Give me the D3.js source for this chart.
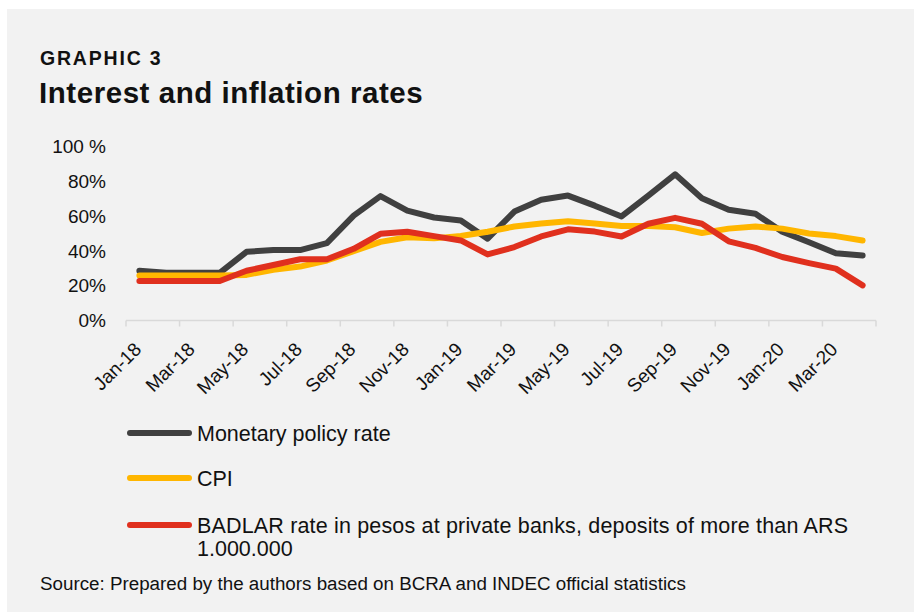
<!DOCTYPE html>
<html>
<head>
<meta charset="utf-8">
<script src="https://cdn.jsdelivr.net/npm/d3@7"></script>
<style>
  body { margin: 0; background: #ffffff; }
  svg { display: block; font-family: "Liberation Sans", Arial, sans-serif; }
</style>
</head>
<body>
<div id="wrapper"></div>
<script>
// months on the category axis
const months = ["Jan-18","Feb-18","Mar-18","Apr-18","May-18","Jun-18","Jul-18","Aug-18","Sep-18","Oct-18","Nov-18","Dec-18",
                "Jan-19","Feb-19","Mar-19","Apr-19","May-19","Jun-19","Jul-19","Aug-19","Sep-19","Oct-19","Nov-19","Dec-19",
                "Jan-20","Feb-20","Mar-20","Apr-20"]

// series values (%)
const monetaryRate = [28.6, 27.4, 27.4, 27.4, 39.5, 40.5, 40.5, 44.5, 60.3, 71.5, 63.2, 59.2, 57.5, 47.0, 62.6, 69.4, 71.8, 66.0, 59.8, 71.8, 84.0, 70.3, 63.6, 61.3, 51.0, 45.0, 38.7, 37.4]
const cpi = [25.8, 25.8, 25.8, 25.8, 26.2, 29.2, 31.0, 34.5, 39.8, 45.2, 47.8, 47.2, 48.6, 51.0, 54.0, 55.7, 57.0, 55.7, 54.3, 54.3, 53.6, 50.3, 52.8, 54.0, 52.8, 50.0, 48.5, 46.0]
const badlar = [22.7, 22.7, 22.7, 22.7, 28.6, 31.9, 35.2, 35.2, 41.2, 49.8, 51.0, 48.5, 46.0, 38.0, 42.2, 48.3, 52.4, 51.1, 48.3, 55.6, 59.0, 55.6, 45.5, 41.7, 36.5, 33.0, 29.8, 20.2]

// y tick labels
const yTicks = [0, 20, 40, 60, 80, 100]
const yTickLabels = ["0%", "20%", "40%", "60%", "80%", "100 %"]

// legend entries
const seriesNames = ["Monetary policy rate", "CPI", "BADLAR rate in pesos at private banks, deposits of more than ARS"]
const seriesExtra = ["", "", "1.000.000"]
const seriesColors = ["#404040", "#FFB600", "#E0301E"]
const seriesValues = [monetaryRate, cpi, badlar]

const width = 914
const height = 612

const svg = d3.select("#wrapper")
    .append("svg")
        .attr("width", width)
        .attr("height", height)

// grey panel
svg.append("rect")
    .attr("x", 7)
    .attr("y", 9)
    .attr("width", width - 7)
    .attr("height", height - 9)
    .attr("fill", "#f2f2f2")

// titles
svg.append("text")
    .attr("x", 40)
    .attr("y", 65)
    .attr("font-size", 19.5)
    .attr("font-weight", "bold")
    .attr("letter-spacing", 1.8)
    .attr("fill", "#111")
    .text("GRAPHIC 3")

svg.append("text")
    .attr("x", 39)
    .attr("y", 103)
    .attr("font-size", 29.5)
    .attr("font-weight", "bold")
    .attr("letter-spacing", 0.55)
    .attr("fill", "#111")
    .text("Interest and inflation rates")

// scales
const xScale = d3.scaleBand()
    .domain(months)
    .range([126, 876])

const xMid = d => xScale(d) + xScale.bandwidth() / 2

const yScale = d3.scaleLinear()
    .domain([0, 100])
    .range([320.5, 146.5])

// y labels (no axis line in the reference)
svg.append("g")
    .selectAll("text")
    .data(yTicks)
    .join("text")
        .attr("x", 106)
        .attr("y", d => yScale(d))
        .attr("dy", "0.35em")
        .attr("text-anchor", "end")
        .attr("font-size", 19)
        .attr("fill", "#111")
        .text((d, i) => yTickLabels[i])

// x axis: line + tick marks between every second category
const axis = svg.append("g")
const tickPositions = months.filter((m, i) => i % 2 === 0).map(m => xScale(m)).concat([xScale.range()[1]])

axis.append("line")
    .attr("x1", xScale.range()[0])
    .attr("x2", xScale.range()[1])
    .attr("y1", yScale(0))
    .attr("y2", yScale(0))
    .attr("stroke", "#d9d9d9")
    .attr("stroke-width", 1.5)

axis.selectAll(".tick")
    .data(tickPositions)
    .join("line")
        .attr("class", "tick")
        .attr("x1", d => d)
        .attr("x2", d => d)
        .attr("y1", yScale(0))
        .attr("y2", yScale(0) + 6)
        .attr("stroke", "#d9d9d9")
        .attr("stroke-width", 1.5)

axis.selectAll(".xlabel")
    .data(months.filter((m, i) => i % 2 === 0))
    .join("text")
        .attr("class", "xlabel")
        .attr("text-anchor", "end")
        .attr("font-size", 19)
        .attr("fill", "#111")
        .attr("transform", d => `translate(${xMid(d) + 3}, ${yScale(0) + 30}) rotate(-45)`)
        .text(d => d)

// lines
const lineGenerator = d3.line()
    .x((d, i) => xMid(months[i]))
    .y(d => yScale(d))

svg.append("g")
    .selectAll("path")
    .data(seriesValues)
    .join("path")
        .attr("d", d => lineGenerator(d))
        .attr("fill", "none")
        .attr("stroke", (d, i) => seriesColors[i])
        .attr("stroke-width", 6)
        .attr("stroke-linejoin", "round")
        .attr("stroke-linecap", "round")

// legend
const legendY = [433, 478, 525]
const legend = svg.append("g")

legend.selectAll("line")
    .data(seriesNames)
    .join("line")
        .attr("x1", 130)
        .attr("x2", 189)
        .attr("y1", (d, i) => legendY[i])
        .attr("y2", (d, i) => legendY[i])
        .attr("stroke", (d, i) => seriesColors[i])
        .attr("stroke-width", 6)
        .attr("stroke-linecap", "round")

legend.selectAll("text.name")
    .data(seriesNames)
    .join("text")
        .attr("class", "name")
        .attr("x", 197)
        .attr("y", (d, i) => legendY[i] + 7.5)
        .attr("font-size", 21.5)
        .attr("fill", "#111")
        .attr("textLength", (d, i) => i === 2 ? 651 : null)
        .attr("lengthAdjust", "spacing")
        .text(d => d)

legend.selectAll("text.extra")
    .data(seriesExtra)
    .join("text")
        .attr("class", "extra")
        .attr("x", 197)
        .attr("y", (d, i) => legendY[i] + 31)
        .attr("font-size", 21.5)
        .attr("fill", "#111")
        .text(d => d)

// source note
svg.append("text")
    .attr("x", 40)
    .attr("y", 590)
    .attr("font-size", 18.8)
    .attr("fill", "#111")
    .text("Source: Prepared by the authors based on BCRA and INDEC official statistics")
</script>
</body>
</html>
